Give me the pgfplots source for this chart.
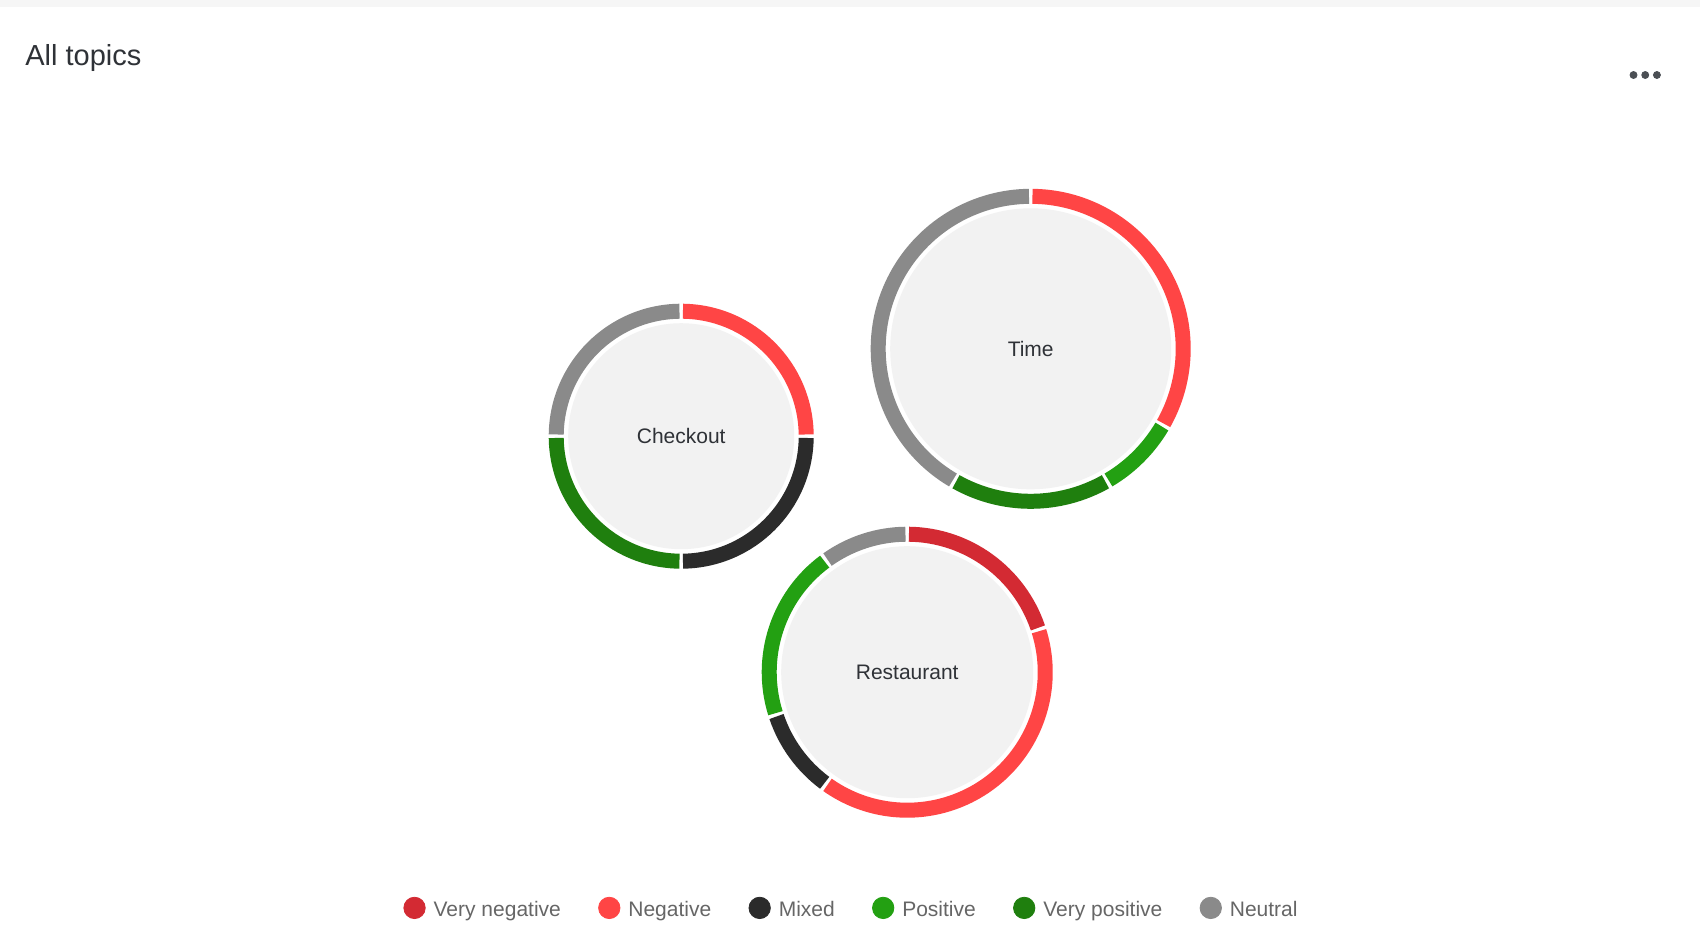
\documentclass[border=0pt]{standalone}
\usepackage{pgfplots}
\pgfplotsset{compat=1.18}
\usepackage{pgfplotstable}
\usepackage{fontspec}
\setmainfont{Liberation Sans}

\definecolor{cVneg}{HTML}{D32A33}
\definecolor{cNeg}{HTML}{FF4545}
\definecolor{cMix}{HTML}{2B2B2B}
\definecolor{cPos}{HTML}{23A012}
\definecolor{cVpos}{HTML}{1F7F0E}
\definecolor{cNeu}{HTML}{8A8A8A}
\definecolor{cDisk}{HTML}{F2F2F2}
\definecolor{cLegend}{HTML}{666666}
\definecolor{cLabel}{HTML}{2F3237}
\definecolor{cBand}{HTML}{F6F6F6}
\definecolor{cDots}{HTML}{4B4F54}

% ring pieces: centre (px), outer radius (px), start/end angle
% (degrees clockwise from 12 o'clock), sentiment
\pgfplotstableread{
x      y      r      a    b    c
681.2  436.2  132.5  0    90   neg
681.2  436.2  132.5  90   180  mix
681.2  436.2  132.5  180  270  vpos
681.2  436.2  132.5  270  360  neu
1030.7 348.8  160    0    120  neg
1030.7 348.8  160    120  150  pos
1030.7 348.8  160    150  210  vpos
1030.7 348.8  160    210  360  neu
907.2  672.2  145.5  0    72   vneg
907.2  672.2  145.5  72   216  neg
907.2  672.2  145.5  216  252  mix
907.2  672.2  145.5  252  324  pos
907.2  672.2  145.5  324  360  neu
}\segments

\pgfplotstableread{
x      y      r      name
681.2  436.2  132.5  Checkout
1030.7 348.8  160    Time
907.2  672.2  145.5  Restaurant
}\bubbles

% 1px = 0.5pt; ring is 15px wide, 3.5px white gap between pieces
\pgfdeclareplotmark{ringseg}{%
  \pgfmathsetmacro\rmid{0.5*(\segR-7.5)}%
  \pgfmathsetmacro\hg{0.875/\rmid*57.29578}%
  \pgfmathsetmacro\ta{90-\segA-\hg}%
  \pgfmathsetmacro\tb{90-\segB+\hg}%
  \pgfpathmoveto{\pgfpointpolar{\ta}{\rmid pt}}%
  \pgfpatharc{\ta}{\tb}{\rmid pt}%
  \pgfusepathqstroke}
\pgfdeclareplotmark{bubbledisk}{%
  \pgfmathsetmacro\rd{0.5*(\segR-19.5)}%
  \pgfpathcircle{\pgfpointorigin}{\rd pt}%
  \pgfusepathqfill}

\begin{document}
\begin{tikzpicture}
\fill[white] (0,0) rectangle (850pt,474pt);
\useasboundingbox (0,0) rectangle (850pt,474pt);
\begin{axis}[at={(0,0)}, anchor=south west, scale only axis,
  width=850pt, height=474pt, xmin=0, xmax=1700, ymin=0, ymax=948,
  y dir=reverse, hide axis, clip=false,
  legend columns=-1,
  legend style={at={(axis cs:850.5,908.3)}, anchor=center, draw=none, fill=none,
    font=\fontsize{10.5}{12}\selectfont, text=cLegend,
    /tikz/every odd column/.append style={column sep=4pt},
    /tikz/every even column/.append style={column sep=18.65pt},
    nodes={inner sep=0pt}},
  legend image code/.code={\fill (5.35pt,1.4pt) circle[radius=5.35pt];}]

\fill[cBand] (axis cs:0,0) rectangle (axis cs:1700,7);
\node[anchor=base west, inner sep=0pt, font=\fontsize{14.5}{17}\selectfont,
  text=cLabel] at (axis cs:25,65) {All topics};
\addplot[only marks, mark=*, mark size=1.75pt, color=cDots, forget plot]
  coordinates {(1633.5,75) (1645.2,75) (1656.9,75)};

\addplot[only marks, mark=bubbledisk, mark options={draw=none, fill=cDisk},
  visualization depends on={\thisrow{r} \as \segR},
  point meta=explicit symbolic, nodes near coords, nodes near coords align={center},
  every node near coord/.append style={anchor=center, inner sep=0pt,
    font=\fontsize{10.5}{12}\selectfont, text=cLabel}, forget plot]
  table[meta=name] {\bubbles};

\addplot[scatter, only marks, mark=ringseg, mark options={line width=7.5pt},
  point meta=explicit symbolic,
  scatter/classes={vneg={draw=cVneg}, neg={draw=cNeg}, mix={draw=cMix},
    pos={draw=cPos}, vpos={draw=cVpos}, neu={draw=cNeu}},
  visualization depends on={\thisrow{r} \as \segR},
  visualization depends on={\thisrow{a} \as \segA},
  visualization depends on={\thisrow{b} \as \segB}, forget plot]
  table[meta=c] {\segments};

\addlegendimage{cVneg}\addlegendentry{Very negative}
\addlegendimage{cNeg}\addlegendentry{Negative}
\addlegendimage{cMix}\addlegendentry{Mixed}
\addlegendimage{cPos}\addlegendentry{Positive}
\addlegendimage{cVpos}\addlegendentry{Very positive}
\addlegendimage{cNeu}\addlegendentry{Neutral}
\end{axis}
\end{tikzpicture}
\end{document}
